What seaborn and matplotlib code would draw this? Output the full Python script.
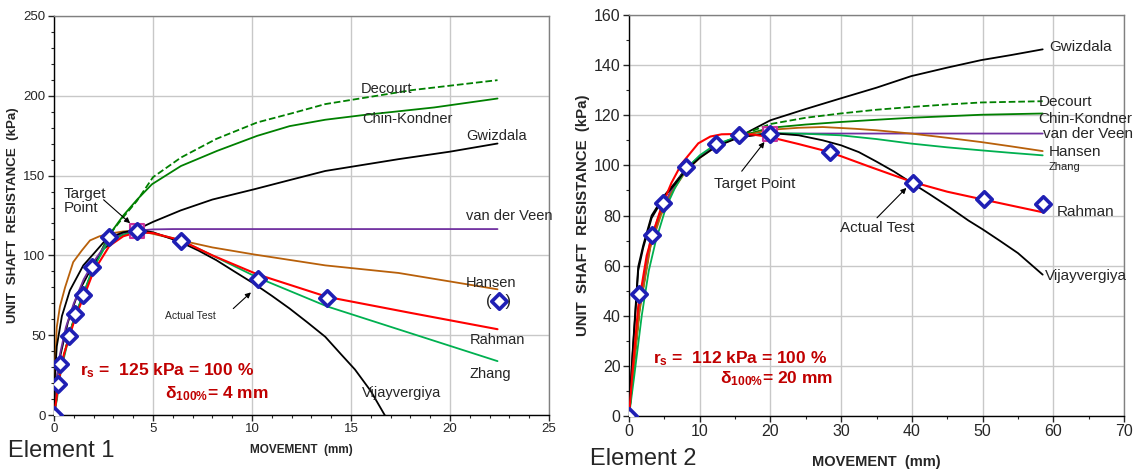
import numpy as np
import pandas as pd
import matplotlib
matplotlib.use("Agg")
import matplotlib.pyplot as plt
import seaborn as sns
from matplotlib.ticker import MultipleLocator

# ---------------- DATA: Element 1 ----------------
e1_test_x = [0, 0.18, 0.28, 0.75, 1.08, 1.48, 1.93, 2.8, 4.2, 6.43, 10.28, 13.8, 22.45]
e1_test_y = [0, 19.5, 32, 49.4, 63, 75, 93, 111.7, 115.5, 109, 85.2, 73, 71.7]
e1_target = (4.2, 115.5)

e1_decourt_x = [0, 0.15, 0.35, 0.7, 1.0, 1.4, 1.9, 2.4, 2.8, 3.5, 4.18, 5.0, 6.41, 8.2, 10.26, 12, 13.7, 18.1, 22.4]
e1_decourt_y = [0, 12, 30, 47, 60, 73, 89, 103, 113, 124, 134, 149, 161.3, 173, 183.3, 189, 194.8, 203.6, 209.8]
e1_chin_x = [0, 0.15, 0.35, 0.7, 1.0, 1.4, 1.9, 2.4, 2.8, 3.5, 4.2, 4.95, 6.41, 8.24, 10.26, 11.9, 13.7, 15.6, 19.2, 22.4]
e1_chin_y = [0, 12, 30, 47, 60, 73, 89, 103, 113, 125, 135, 144.6, 156, 165.5, 174.9, 181, 185, 187.9, 192.7, 198.3]
e1_gwiz_x = [0, 0.1, 0.3, 0.7, 1.2, 1.8, 2.5, 3.3, 4.2, 5.0, 6.4, 8.0, 10.1, 12.0, 13.7, 15.5, 17.4, 20, 22.4]
e1_gwiz_y = [0, 18, 36, 58, 76, 90, 104, 112, 116.3, 121, 128.2, 135, 141.4, 147.5, 152.9, 156.5, 160.3, 165, 170.1]
e1_veen_x = [0, 0.1, 0.3, 0.6, 1.0, 1.5, 2.0, 2.8, 3.5, 4.2, 5.0, 6.0, 22.4]
e1_veen_y = [0, 20, 38, 55, 70, 85, 96, 110, 114, 115.5, 116.3, 116.5, 116.5]
e1_hansen_x = [0, 0.05, 0.14, 0.3, 0.56, 0.97, 1.4, 1.82, 2.3, 2.83, 3.5, 4.2, 5.0, 6.4, 8.0, 10.1, 13.7, 17.4, 22.4]
e1_hansen_y = [0, 30, 55, 68, 80, 95.8, 103, 109.4, 112, 113.7, 115, 115.6, 113.5, 109.4, 105, 100.6, 93.75, 89, 78.75]
e1_rahman_x = [0, 0.1, 0.25, 0.5, 0.8, 1.1, 1.5, 2.0, 2.8, 3.5, 4.2, 5.0, 6.4, 8.0, 10.3, 13.8, 18, 22.4]
e1_rahman_y = [0, 8, 22, 38, 50, 62, 74, 90, 106, 112, 114.5, 114, 109.5, 100, 88, 74, 64, 53.75]
e1_zhang_x = [0, 0.15, 0.35, 0.7, 1.0, 1.4, 1.9, 2.7, 3.5, 4.2, 5.0, 6.4, 8.0, 10.3, 13.8, 22.4]
e1_zhang_y = [0, 10, 28, 46, 60, 73, 90, 108, 113, 115, 114, 109.5, 100, 86, 68, 33.75]
e1_vijay_x = [0, 0.05, 0.14, 0.4, 0.8, 1.48, 2.0, 2.66, 3.5, 4.2, 5.0, 6.4, 7.3, 8.2, 9.1, 10.1, 11.0, 11.9, 12.8, 13.7, 14.5, 15.2, 16.0, 16.7, 17.2]
e1_vijay_y = [0, 25, 43, 62, 78, 93.75, 101, 110.4, 114.5, 116, 114.5, 108.3, 103, 97, 90, 82.3, 74.7, 66.7, 58, 49, 38, 28.5, 15, 0, -8]

# ---------------- DATA: Element 2 ----------------
e2_test_x = [0, 1.46, 3.3, 4.86, 8.06, 12.3, 15.6, 19.9, 28.4, 40.15, 50.2, 58.6]
e2_test_y = [0, 48.5, 72.4, 84.8, 99.2, 108.7, 112.2, 112.7, 105.3, 93.1, 86.7, 84.7]
e2_target = (19.9, 112.7)

e2_gwiz_x = [0, 0.5, 1.3, 2.0, 3.2, 5, 6.5, 8, 10, 12.3, 15.6, 20, 25, 29.9, 35, 39.9, 45, 49.8, 54, 58.5]
e2_gwiz_y = [0, 25, 59.5, 68, 80, 88, 93, 98.5, 103.5, 108, 111.5, 118, 122.5, 126.7, 131, 135.6, 139, 142, 144, 146.3]
e2_decourt_x = [0, 0.7, 1.5, 3, 4.5, 6, 8, 10, 12.3, 15.6, 20, 25, 29.9, 35, 39.9, 45, 49.8, 58.5]
e2_decourt_y = [0, 20, 43, 68, 81, 90, 98.5, 103.5, 108, 111.8, 116.5, 119, 120.7, 122.2, 123.3, 124.3, 125.1, 125.6]
e2_chin_x = [0, 0.7, 1.5, 3, 4.5, 6, 8, 10, 12.3, 15.6, 20, 25, 29.9, 35, 39.9, 45, 49.8, 58.5]
e2_chin_y = [0, 20, 43, 68, 81, 90, 98.5, 103.5, 108, 111.6, 115, 116.3, 117.3, 118.2, 119, 119.6, 120.2, 120.7]
e2_veen_x = [0, 0.7, 1.5, 3, 4.5, 6, 8, 10, 12.3, 15.6, 20, 25, 58.5]
e2_veen_y = [0, 22, 45, 70, 82, 90, 98.5, 103.5, 108, 111.5, 112.6, 112.7, 112.7]
e2_hansen_x = [0, 0.7, 1.5, 3, 4.5, 6, 8, 10, 12.3, 15.6, 20, 24, 27.4, 32, 35, 39.9, 45, 49.8, 54, 58.5]
e2_hansen_y = [0, 20, 42, 67, 80, 89, 97.5, 103, 107.5, 111.5, 114.2, 115, 115.3, 114.6, 114, 112.7, 111, 109.3, 107.6, 105.7]
e2_zhang_x = [0, 0.7, 1.8, 2.8, 3.8, 5.2, 6.5, 8.06, 10, 12.3, 15.6, 20, 25, 29.9, 35, 39.9, 45, 49.8, 54, 58.5]
e2_zhang_y = [0, 15, 40, 58, 70, 83, 91, 98.5, 104, 108.5, 111.5, 112.9, 112.6, 112, 110.5, 108.7, 107.2, 106, 105, 104]
e2_rahman_x = [0, 0.5, 1.3, 2.5, 3.5, 4.6, 6, 7.45, 9.8, 11.5, 13.1, 15, 17.5, 19.9, 24, 28.4, 34, 40.15, 45, 50.2, 54, 58.5]
e2_rahman_y = [0, 18, 43.6, 64, 74, 83.5, 93, 100.7, 108.8, 111.5, 112.4, 112.5, 112.3, 111.3, 108.5, 105.3, 99.5, 93.3, 89.5, 86.3, 84, 81.3]
e2_vijay_x = [0, 0.5, 1.3, 2.0, 3.2, 5, 6.5, 8, 10, 12.3, 15.6, 20, 24, 27.4, 30, 32.5, 35, 37.5, 40.15, 42.5, 45.3, 48, 50, 52.4, 55, 58.5]
e2_vijay_y = [0, 24, 58, 67, 79, 87.5, 92.5, 98, 103, 107.5, 111.2, 112.9, 112, 110, 108, 105.3, 101.5, 97.5, 92.7, 88.5, 83.3, 78, 74.5, 70, 65, 56.4]

# ---------------- STYLE ----------------
sns.set_style("white")
plt.rcParams['font.family'] = ['Liberation Sans', 'DejaVu Sans']
plt.rcParams['mathtext.fontset'] = 'custom'
plt.rcParams['mathtext.rm'] = 'Liberation Sans:bold'
plt.rcParams['mathtext.it'] = 'Liberation Sans:bold'
plt.rcParams['mathtext.bf'] = 'Liberation Sans:bold'

C_BLACK = '#000000'
C_DGREEN = '#008000'
C_LGREEN = '#00b050'
C_BROWN = '#b8600a'
C_RED = '#ff0000'
C_PURPLE = '#7030a0'
C_BLUE = '#1f1fb4'
C_DARKRED = '#c00000'

fig = plt.figure(figsize=(11.36, 4.72), dpi=100)
ax1 = fig.add_axes([54/1136, 1-415/472, (549-54)/1136, (415-16)/472])
ax2 = fig.add_axes([629/1136, 1-416/472, (1124-629)/1136, (416-15)/472])


def line(ax, x, y, color, ls='-', lw=1.3):
    sns.lineplot(x=x, y=y, ax=ax, color=color, linestyle=ls, linewidth=lw,
                 sort=False, estimator=None, zorder=3)


def style_axes(ax, xmax, xmaj, xmin, ymax, ymaj, ymin, fs):
    ax.set_xlim(0, xmax)
    ax.set_ylim(0, ymax)
    ax.xaxis.set_major_locator(MultipleLocator(xmaj))
    ax.xaxis.set_minor_locator(MultipleLocator(xmin))
    ax.yaxis.set_major_locator(MultipleLocator(ymaj))
    ax.yaxis.set_minor_locator(MultipleLocator(ymin))
    ax.grid(True, which='major', color='#c8c8c8', linewidth=1.0, zorder=0)
    ax.set_axisbelow(True)
    ax.tick_params(which='major', direction='out', length=4, width=1, labelsize=fs,
                   bottom=True, left=True, pad=2)
    ax.tick_params(which='minor', direction='out', length=2.5, width=0.8,
                   bottom=True, left=True)
    for s in ['top', 'right']:
        ax.spines[s].set_color('#808080')
        ax.spines[s].set_linewidth(1)
    for s in ['left', 'bottom']:
        ax.spines[s].set_color('#000000')
        ax.spines[s].set_linewidth(1)


# ---------------- Element 1 ----------------
line(ax1, e1_decourt_x, e1_decourt_y, C_DGREEN, '--')
line(ax1, e1_chin_x, e1_chin_y, C_DGREEN)
line(ax1, e1_gwiz_x, e1_gwiz_y, C_BLACK)
line(ax1, e1_veen_x, e1_veen_y, C_PURPLE)
line(ax1, e1_hansen_x, e1_hansen_y, C_BROWN)
line(ax1, e1_zhang_x, e1_zhang_y, C_LGREEN)
line(ax1, e1_vijay_x, e1_vijay_y, C_BLACK)
line(ax1, e1_rahman_x, e1_rahman_y, C_RED, lw=1.5)
ax1.scatter([e1_target[0]], [e1_target[1]], marker='s', s=110, facecolor='#f0c0f0',
            edgecolor='#cc3399', linewidth=1.5, zorder=4)
sns.scatterplot(x=e1_test_x, y=e1_test_y, ax=ax1, marker='D', s=62, color='white',
                edgecolor=C_BLUE, linewidth=2.6, zorder=5)
style_axes(ax1, 25, 5, 1, 250, 50, 10, 9.5)
ax1.set_xlabel('MOVEMENT  (mm)', fontsize=8.5, fontweight='bold', labelpad=6)
ax1.set_ylabel('UNIT  SHAFT  RESISTANCE  (kPa)', fontsize=9.6, fontweight='bold', labelpad=3.5)

fs_lab = 10.5
ax1.text(15.5, 204, 'Decourt', fontsize=fs_lab, va='center', ha='left', zorder=6)
ax1.text(15.55, 185.6, 'Chin-Kondner', fontsize=fs_lab, va='center', ha='left', zorder=6)
ax1.text(20.8, 175, 'Gwizdala', fontsize=fs_lab, va='center', ha='left', zorder=6)
ax1.text(20.8, 125, 'van der Veen', fontsize=fs_lab, va='center', ha='left', zorder=6)
ax1.text(20.8, 82.5, 'Hansen', fontsize=fs_lab, va='center', ha='left', zorder=6)
ax1.text(21.0, 47, 'Rahman', fontsize=fs_lab, va='center', ha='left', zorder=6)
ax1.text(21.0, 26, 'Zhang', fontsize=fs_lab, va='center', ha='left', zorder=6)
ax1.text(15.55, 13.5, 'Vijayvergiya', fontsize=fs_lab, va='center', ha='left', zorder=6)
ax1.text(22.45, 71.0, '(   )', fontsize=12, va='center', ha='center', zorder=6)
ax1.text(0.5, 134, 'Target\nPoint', fontsize=11, va='center', ha='left', linespacing=1.0, zorder=6)
ax1.annotate('', xy=(3.95, 119), xytext=(2.4, 136),
             arrowprops=dict(arrowstyle='-|>', color='black', lw=0.8, mutation_scale=8), zorder=6)
ax1.text(5.6, 62, 'Actual Test', fontsize=7.5, va='center', ha='left', zorder=6)
ax1.annotate('', xy=(10.05, 78), xytext=(8.95, 65.5),
             arrowprops=dict(arrowstyle='-|>', color='black', lw=0.8, mutation_scale=8), zorder=6)
ax1.text(1.3, 28, r'r$_{\mathregular{s}}$ =  125 kPa = 100 %', fontsize=12.5, fontweight='bold',
         color=C_DARKRED, va='center', ha='left', zorder=6)
ax1.text(5.6, 13.5, 'δ$_{\\mathregular{100\\%}}$= 4 mm', fontsize=12.5, fontweight='bold',
         color=C_DARKRED, va='center', ha='left', zorder=6)

# ---------------- Element 2 ----------------
line(ax2, e2_gwiz_x, e2_gwiz_y, C_BLACK)
line(ax2, e2_decourt_x, e2_decourt_y, C_DGREEN, '--')
line(ax2, e2_chin_x, e2_chin_y, C_DGREEN)
line(ax2, e2_veen_x, e2_veen_y, C_PURPLE)
line(ax2, e2_hansen_x, e2_hansen_y, C_BROWN)
line(ax2, e2_zhang_x, e2_zhang_y, C_LGREEN)
line(ax2, e2_vijay_x, e2_vijay_y, C_BLACK)
line(ax2, e2_rahman_x, e2_rahman_y, C_RED, lw=1.5)
ax2.scatter([e2_target[0]], [e2_target[1]], marker='s', s=110, facecolor='#f0c0f0',
            edgecolor='#cc3399', linewidth=1.5, zorder=4)
sns.scatterplot(x=e2_test_x, y=e2_test_y, ax=ax2, marker='D', s=62, color='white',
                edgecolor=C_BLUE, linewidth=2.6, zorder=5)
style_axes(ax2, 70, 10, 5, 160, 20, 10, 11.5)
ax2.set_xlabel('MOVEMENT  (mm)', fontsize=10.5, fontweight='bold', labelpad=11)
ax2.set_ylabel('UNIT  SHAFT  RESISTANCE  (kPa)', fontsize=10.8, fontweight='bold', labelpad=3)

fs2 = 11
ax2.text(59.5, 147.3, 'Gwizdala', fontsize=fs2, va='center', ha='left', zorder=6)
ax2.text(57.9, 125.3, 'Decourt', fontsize=fs2, va='center', ha='left', zorder=6)
ax2.text(57.9, 118.7, 'Chin-Kondner', fontsize=fs2, va='center', ha='left', zorder=6)
ax2.text(58.5, 112.5, 'van der Veen', fontsize=fs2, va='center', ha='left', zorder=6)
ax2.text(59.4, 105.3, 'Hansen', fontsize=fs2, va='center', ha='left', zorder=6)
ax2.text(59.4, 99.5, 'Zhang', fontsize=8, va='center', ha='left', zorder=6)
ax2.text(60.5, 81.3, 'Rahman', fontsize=fs2, va='center', ha='left', zorder=6)
ax2.text(58.8, 56, 'Vijayvergiya', fontsize=fs2, va='center', ha='left', zorder=6)
ax2.text(12.0, 92.7, 'Target Point', fontsize=fs2, va='center', ha='left', zorder=6)
ax2.annotate('', xy=(19.4, 110.2), xytext=(15.7, 96.8),
             arrowprops=dict(arrowstyle='-|>', color='black', lw=0.8, mutation_scale=8), zorder=6)
ax2.text(29.8, 75, 'Actual Test', fontsize=fs2, va='center', ha='left', zorder=6)
ax2.annotate('', xy=(39.5, 91.8), xytext=(34.8, 78.3),
             arrowprops=dict(arrowstyle='-|>', color='black', lw=0.8, mutation_scale=8), zorder=6)
ax2.text(3.4, 23, r'r$_{\mathregular{s}}$ =  112 kPa = 100 %', fontsize=12.5, fontweight='bold',
         color=C_DARKRED, va='center', ha='left', zorder=6)
ax2.text(12.9, 15, 'δ$_{\\mathregular{100\\%}}$= 20 mm', fontsize=12.5, fontweight='bold',
         color=C_DARKRED, va='center', ha='left', zorder=6)

fig.text(8/1136, 1-451/472, 'Element 1', fontsize=17, va='center', ha='left')
fig.text(590/1136, 1-459/472, 'Element 2', fontsize=17, va='center', ha='left')

fig.savefig('out.png', dpi=100)
